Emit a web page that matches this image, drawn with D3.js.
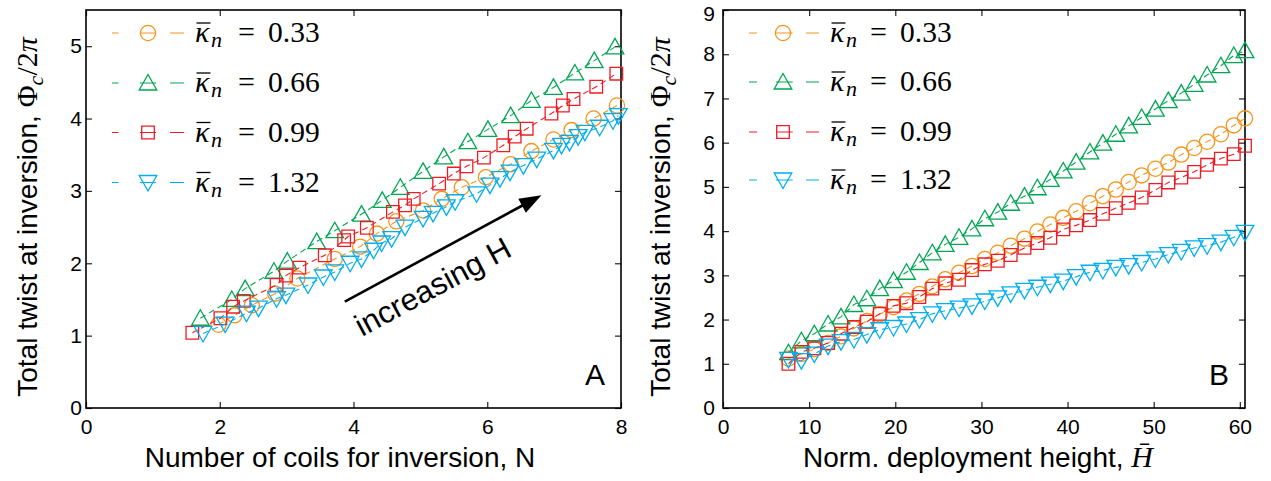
<!DOCTYPE html>
<html><head><meta charset="utf-8">
<script src="https://cdn.jsdelivr.net/npm/d3@7"></script>
<style>body{margin:0;background:#fff} svg{display:block}</style>
</head><body>
<svg id="chart" width="1271" height="481"></svg>
<script>
// ---------- DATA ----------
const kappaLabels = ["0.33", "0.66", "0.99", "1.32"];
const xTicksA = [0, 2, 4, 6, 8];
const yTicksA = [0, 1, 2, 3, 4, 5];
const xTicksB = [0, 10, 20, 30, 40, 50, 60];
const yTicksB = [0, 1, 2, 3, 4, 5, 6, 7, 8, 9];

// Panel A: number of coils N vs total twist
const coilsA_033 = [1.98, 2.22, 2.48, 2.83, 3.16, 3.72, 4.10, 4.35, 4.64, 5.04, 5.32, 5.62, 5.98, 6.35, 6.66, 6.99, 7.26, 7.59, 7.94];
const twistA_033 = [1.15, 1.28, 1.42, 1.58, 1.79, 2.06, 2.23, 2.41, 2.58, 2.73, 2.89, 3.05, 3.19, 3.37, 3.55, 3.71, 3.84, 4.00, 4.18];
const coilsA_066 = [1.71, 2.18, 2.38, 2.81, 3.01, 3.45, 3.72, 4.12, 4.43, 4.70, 5.04, 5.35, 5.71, 6.01, 6.35, 6.66, 6.99, 7.31, 7.60, 7.91];
const twistA_066 = [1.24, 1.50, 1.65, 1.89, 2.03, 2.30, 2.45, 2.68, 2.87, 3.05, 3.27, 3.47, 3.68, 3.85, 4.04, 4.25, 4.43, 4.63, 4.80, 4.99];
const coilsA_099 = [1.59, 2.01, 2.20, 2.36, 2.85, 2.99, 3.19, 3.57, 3.86, 3.92, 4.20, 4.59, 4.77, 4.90, 5.28, 5.50, 5.69, 5.95, 6.24, 6.41, 6.59, 6.96, 7.13, 7.29, 7.63, 7.93];
const twistA_099 = [1.04, 1.24, 1.40, 1.48, 1.70, 1.83, 1.94, 2.11, 2.32, 2.37, 2.49, 2.71, 2.80, 2.89, 3.10, 3.24, 3.34, 3.46, 3.63, 3.75, 3.86, 4.07, 4.18, 4.27, 4.44, 4.62];
const coilsA_132 = [1.75, 2.08, 2.40, 2.58, 2.85, 2.99, 3.32, 3.55, 3.72, 3.95, 4.12, 4.30, 4.42, 4.57, 4.77, 5.04, 5.19, 5.39, 5.52, 5.84, 6.04, 6.19, 6.34, 6.54, 6.74, 6.99, 7.11, 7.23, 7.36, 7.46, 7.68, 7.88, 7.96];
const twistA_132 = [1.03, 1.16, 1.31, 1.38, 1.51, 1.56, 1.70, 1.81, 1.88, 2.00, 2.06, 2.18, 2.28, 2.34, 2.50, 2.62, 2.69, 2.78, 2.85, 2.96, 3.08, 3.17, 3.26, 3.35, 3.44, 3.56, 3.63, 3.67, 3.75, 3.81, 3.88, 3.97, 4.04];

// Panel B: normalised deployment height vs total twist
const heightB = [7.6, 9.1, 10.6, 12.2, 13.7, 15.2, 16.7, 18.2, 19.8, 21.3, 22.8, 24.3, 25.8, 27.4, 28.9, 30.4, 31.9, 33.4, 35.0, 36.5, 38.0, 39.5, 41.0, 42.6, 44.1, 45.6, 47.1, 48.6, 50.2, 51.7, 53.2, 54.7, 56.2, 57.8, 59.3, 60.6];
const twistB_033 = [1.12, 1.22, 1.33, 1.47, 1.62, 1.80, 1.97, 2.12, 2.28, 2.43, 2.58, 2.75, 2.91, 3.06, 3.21, 3.37, 3.51, 3.67, 3.83, 3.99, 4.15, 4.30, 4.45, 4.63, 4.79, 4.94, 5.11, 5.26, 5.41, 5.55, 5.73, 5.88, 6.02, 6.19, 6.39, 6.55];
const twistB_066 = [1.25, 1.52, 1.68, 1.90, 2.06, 2.34, 2.47, 2.70, 2.88, 3.07, 3.29, 3.51, 3.70, 3.86, 4.05, 4.28, 4.43, 4.63, 4.79, 4.98, 5.17, 5.36, 5.56, 5.79, 5.99, 6.19, 6.38, 6.57, 6.76, 6.95, 7.12, 7.32, 7.53, 7.74, 7.97, 8.08];
const twistB_099 = [1.00, 1.27, 1.35, 1.47, 1.68, 1.83, 1.95, 2.13, 2.31, 2.37, 2.51, 2.70, 2.82, 2.90, 3.12, 3.25, 3.33, 3.46, 3.62, 3.73, 3.85, 4.04, 4.13, 4.25, 4.39, 4.52, 4.64, 4.76, 4.93, 5.10, 5.21, 5.34, 5.50, 5.64, 5.74, 5.93];
const twistB_132 = [1.10, 1.07, 1.22, 1.40, 1.50, 1.55, 1.66, 1.77, 1.82, 1.90, 2.00, 2.13, 2.20, 2.26, 2.31, 2.42, 2.49, 2.58, 2.66, 2.73, 2.80, 2.87, 2.97, 3.07, 3.11, 3.18, 3.22, 3.29, 3.37, 3.47, 3.54, 3.62, 3.67, 3.75, 3.86, 3.97];

// Arrow annotation (data coordinates of panel A)
const arrowA = [[3.87, 1.47], [6.81, 2.94]];

// ---------- STYLE ----------
const colors = ["#F7941D", "#00A651", "#ED1C24", "#00AEEF"];
const shapes = ["circle", "triUp", "square", "triDown"];
const SANS = "'Liberation Sans', Arial, sans-serif";
const SERIF = "'Liberation Serif', 'Times New Roman', serif";

const svg = d3.select("#chart");

function markerPath(shape) {
  switch (shape) {
    case "circle": return "M7.6,0A7.6,7.6 0 1,1 -7.6,0A7.6,7.6 0 1,1 7.6,0Z";
    case "triUp": return "M0,-8.5L8.8,7L-8.8,7Z";
    case "triDown": return "M0,8.5L8.8,-7L-8.8,-7Z";
    case "square": return "M-6.3,-6.3H6.3V6.3H-6.3Z";
  }
}

function zipXY(xs, ys) { return xs.map((x, i) => [x, ys[i]]); }

function drawPanel(cfg) {
  const x = d3.scaleLinear().domain(cfg.xDomain).range([cfg.left, cfg.right]);
  const y = d3.scaleLinear().domain(cfg.yDomain).range([cfg.bottom, cfg.top]);
  const g = svg.append("g");

  // axes
  const ax = g.append("g").attr("transform", `translate(0,${cfg.bottom})`)
    .call(d3.axisBottom(x).tickValues(cfg.xTicks).tickFormat(d3.format("d")).tickSizeInner(-6).tickSizeOuter(0).tickPadding(11));
  const ay = g.append("g").attr("transform", `translate(${cfg.left},0)`)
    .call(d3.axisLeft(y).tickValues(cfg.yTicks).tickFormat(d3.format("d")).tickSizeInner(-6).tickSizeOuter(0).tickPadding(cfg.yPad));
  const at = g.append("g").attr("transform", `translate(0,${cfg.top})`)
    .call(d3.axisTop(x).tickValues(cfg.xTicks).tickFormat("").tickSizeInner(-6).tickSizeOuter(0));
  const ar = g.append("g").attr("transform", `translate(${cfg.right},0)`)
    .call(d3.axisRight(y).tickValues(cfg.yTicks).tickFormat("").tickSizeInner(-6).tickSizeOuter(0));
  [ax, ay, at, ar].forEach(a => {
    a.select(".domain").remove();
    a.selectAll("line").attr("stroke", "#222").attr("stroke-width", 1.2);
    a.selectAll("text").attr("font-family", SANS).attr("font-size", 21).attr("fill", "#000");
  });
  // the topmost y label sits slightly lower, clear of the figure edge
  const yMax = cfg.yTicks[cfg.yTicks.length - 1];
  ay.selectAll(".tick").filter(d => d === yMax && y(d) < 20).select("text").attr("dy", "0.48em");

  g.append("rect").attr("x", cfg.left).attr("y", cfg.top)
    .attr("width", cfg.right - cfg.left).attr("height", cfg.bottom - cfg.top)
    .attr("fill", "none").attr("stroke", "#000").attr("stroke-width", 1.6);

  // series
  cfg.series.forEach((s, i) => {
    const pts = zipXY(s.xs, s.ys);
    g.append("path").datum(pts)
      .attr("d", d3.line().x(d => x(d[0])).y(d => y(d[1])))
      .attr("fill", "none").attr("stroke", colors[i]).attr("stroke-width", 1.1)
      .attr("stroke-dasharray", "6,4");
    g.append("g").selectAll("path").data(pts).join("path")
      .attr("d", markerPath(shapes[i]))
      .attr("transform", d => `translate(${x(d[0])},${y(d[1])})`)
      .attr("fill", "none").attr("stroke", colors[i]).attr("stroke-width", 1.3);
  });

  // legend
  kappaLabels.forEach((lab, i) => {
    const cy = cfg.legY[i];
    const L = cfg.leg;
    const base = cy + 9;
    g.append("line").attr("x1", L.x1).attr("x2", L.x2).attr("y1", cy).attr("y2", cy)
      .attr("stroke", colors[i]).attr("stroke-width", 1.1).attr("stroke-dasharray", L.dash);
    g.append("path").attr("d", markerPath(shapes[i])).attr("transform", `translate(${L.mx},${cy})`)
      .attr("fill", "none").attr("stroke", colors[i]).attr("stroke-width", 1.3);
    g.append("text").attr("x", L.tx).attr("y", base)
      .attr("font-family", SERIF).attr("font-style", "italic").attr("font-size", 30).attr("fill", "#000").text("\u03BA");
    g.append("line").attr("x1", L.tx + 1.5).attr("x2", L.tx + 15.5).attr("y1", base - 19).attr("y2", base - 19)
      .attr("stroke", "#000").attr("stroke-width", 1.3);
    g.append("text").attr("x", L.tx + 16).attr("y", base + 5)
      .attr("font-family", SERIF).attr("font-style", "italic").attr("font-size", 22).attr("fill", "#000").text("n");
    g.append("text").attr("x", L.tx + L.eqOff).attr("y", base)
      .attr("font-family", SERIF).attr("font-size", 30).attr("fill", "#000").text("=");
    g.append("text").attr("x", L.tx + L.numOff).attr("y", base)
      .attr("font-family", SERIF).attr("font-size", 29.5).attr("fill", "#000").text(lab);
  });

  // x title
  const xt = g.append("text").attr("x", cfg.xTitleX).attr("y", 467).attr("text-anchor", "middle")
    .attr("font-family", SANS).attr("font-size", 28).attr("fill", "#000");
  cfg.xTitle(xt);

  // y title
  const yt = g.append("text").attr("transform", `translate(${cfg.yTitleX},217) rotate(-90)`)
    .attr("text-anchor", "middle").attr("font-family", SANS).attr("font-size", 28).attr("fill", "#000");
  yt.append("tspan").text("Total twist at inversion, ");
  yt.append("tspan").attr("font-family", SERIF).attr("font-size", 30).text("\u03A6");
  yt.append("tspan").attr("font-family", SERIF).attr("font-style", "italic").attr("font-size", 22).attr("dy", 6).text("c");
  yt.append("tspan").attr("font-family", SERIF).attr("font-size", 30).attr("dy", -6).text("/2");
  yt.append("tspan").attr("font-family", SERIF).attr("font-style", "italic").attr("font-size", 30).text("\u03C0");

  // panel letter
  g.append("text").attr("x", cfg.right - 16).attr("y", 385).attr("text-anchor", "end")
    .attr("font-family", SANS).attr("font-size", 30).attr("fill", "#000").text(cfg.letter);

  return { x, y, g };
}

const A = drawPanel({
  left: 86, right: 621, top: 10, bottom: 408,
  xDomain: [0, 8], yDomain: [0, 5.5], xTicks: xTicksA, yTicks: yTicksA, yPad: 4,
  series: [
    { xs: coilsA_033, ys: twistA_033 }, { xs: coilsA_066, ys: twistA_066 },
    { xs: coilsA_099, ys: twistA_099 }, { xs: coilsA_132, ys: twistA_132 }
  ],
  legY: [33, 83, 132.5, 182.5],
  leg: { x1: 112, x2: 184, mx: 148, tx: 195, eqOff: 43, numOff: 73, dash: "6.5,21.5,16,14,14" },
  xTitleX: 340,
  xTitle: t => t.text("Number of coils for inversion, N"),
  yTitleX: 37, letter: "A"
});

drawPanel({
  left: 723, right: 1245, top: 10, bottom: 408,
  xDomain: [0, 60.6], yDomain: [0, 9], xTicks: xTicksB, yTicks: yTicksB, yPad: 8,
  series: [
    { xs: heightB, ys: twistB_033 }, { xs: heightB, ys: twistB_066 },
    { xs: heightB, ys: twistB_099 }, { xs: heightB, ys: twistB_132 }
  ],
  legY: [33, 82, 132, 180],
  leg: { x1: 749, x2: 819, mx: 783, tx: 830, eqOff: 40, numOff: 70, dash: "8,19,16.7,13.3,13" },
  xTitleX: 978,
  xTitle: t => {
    t.append("tspan").text("Norm. deployment height, ");
    t.append("tspan").attr("font-family", SERIF).attr("font-style", "italic").attr("font-size", 30).text("H\u0304");
  },
  yTitleX: 670, letter: "B"
});

// arrow + annotation in panel A
const p0 = [A.x(arrowA[0][0]), A.y(arrowA[0][1])];
const p1 = [A.x(arrowA[1][0]), A.y(arrowA[1][1])];
const ang = Math.atan2(p1[1] - p0[1], p1[0] - p0[0]);
const headLen = 22, headW = 8;
const base = [p1[0] - headLen * Math.cos(ang), p1[1] - headLen * Math.sin(ang)];
A.g.append("line").attr("x1", p0[0]).attr("y1", p0[1]).attr("x2", base[0] + 2 * Math.cos(ang)).attr("y2", base[1] + 2 * Math.sin(ang))
  .attr("stroke", "#000").attr("stroke-width", 2.6);
A.g.append("path")
  .attr("d", `M${p1[0]},${p1[1]}L${base[0] - headW * Math.sin(ang)},${base[1] + headW * Math.cos(ang)}L${base[0] + headW * Math.sin(ang)},${base[1] - headW * Math.cos(ang)}Z`)
  .attr("fill", "#000");
const deg = ang * 180 / Math.PI;
A.g.append("text").attr("transform", `translate(362,337) rotate(${deg})`)
  .attr("font-family", SANS).attr("font-size", 31).attr("fill", "#000").text("increasing H");
</script>
</body></html>
